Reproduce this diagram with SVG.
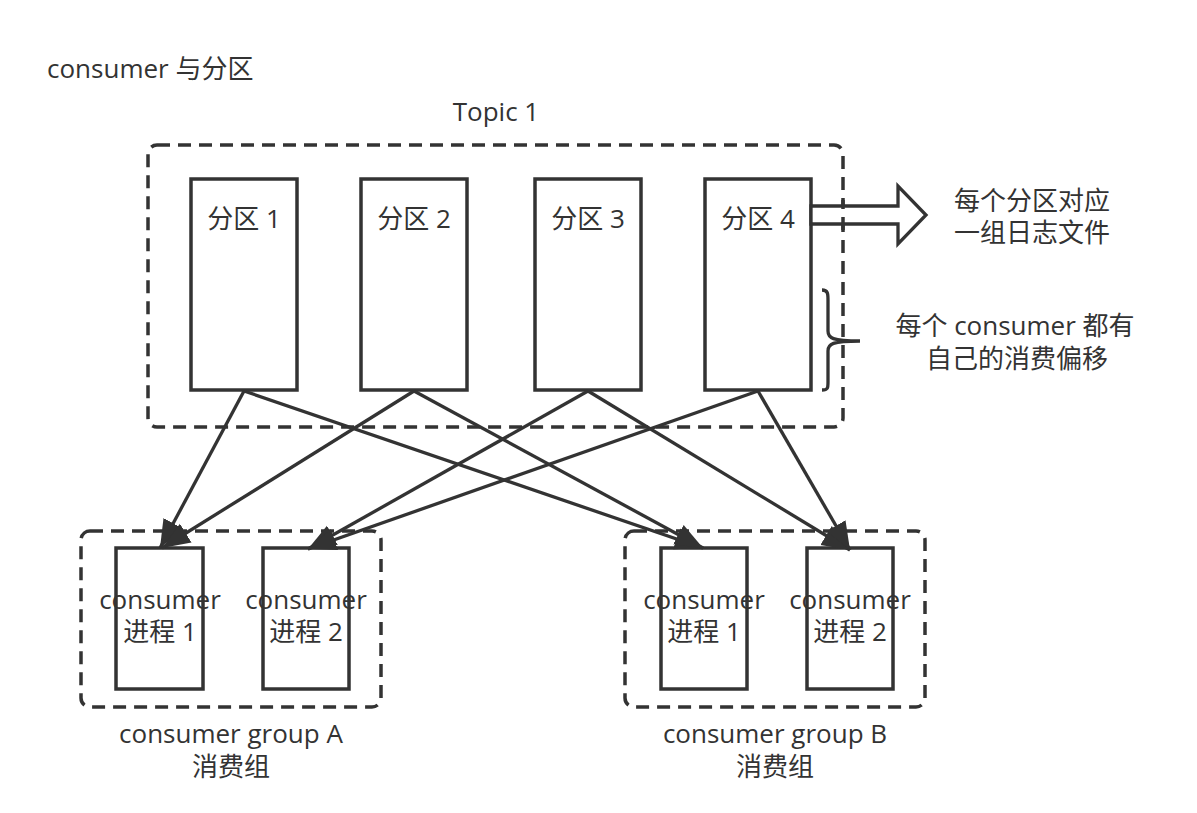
<svg xmlns="http://www.w3.org/2000/svg" width="1197" height="813" viewBox="0 0 1197 813">
<defs>
<style>
.t{font-family:"Open Sans","Noto Sans CJK SC",sans-serif;font-size:26px;fill:#333333;}
.c{text-anchor:middle;}
.box{fill:#ffffff;stroke:#333333;stroke-width:3.5;}
.dash{fill:none;stroke:#333333;stroke-width:3.5;stroke-dasharray:13 8;}
.ln{fill:none;stroke:#333333;stroke-width:3.3;}
</style>
<marker id="ah" markerUnits="userSpaceOnUse" markerWidth="30" markerHeight="26" viewBox="0 0 30 26" refX="28" refY="13" orient="auto">
<path d="M0,2 L28,13 L0,24 Z" fill="#333333"/>
</marker>
</defs>
<rect width="1197" height="813" fill="#ffffff"/>
<text class="t" x="47" y="78">consumer 与分区</text>
<g id="topic">
<text class="t c" x="496" y="121">Topic 1</text>
<rect class="dash" x="148" y="145" width="695" height="282" rx="9"/>
</g>
<g id="p1"><rect class="box" x="191" y="179" width="106" height="211"/><text class="t c" x="244" y="228">分区 1</text></g>
<g id="p2"><rect class="box" x="361" y="179" width="106" height="211"/><text class="t c" x="414" y="228">分区 2</text></g>
<g id="p3"><rect class="box" x="535" y="179" width="106" height="211"/><text class="t c" x="588" y="228">分区 3</text></g>
<g id="p4"><rect class="box" x="705" y="179" width="106" height="211"/><text class="t c" x="758" y="228">分区 4</text></g>
<g id="logarrow">
<polygon class="ln" points="811,206 898,206 898,186 926,215 898,244 898,224 811,224" style="fill:#ffffff"/>
<line x1="843" y1="200" x2="843" y2="230" class="dash" stroke-dashoffset="4"/>
</g>
<g id="lognote">
<text class="t c" x="1032" y="210">每个分区对应</text>
<text class="t c" x="1032" y="242">一组日志文件</text>
</g>
<g id="brace">
<path class="ln" d="M822,290 C828,290 828,294 828,300 L828,331 C828,338 832,341 860,341 M860,341 C832,341 828,344 828,351 L828,382 C828,388 828,390 822,390"/>
</g>
<g id="offsetnote">
<text class="t c" x="1015" y="335">每个 consumer 都有</text>
<text class="t c" x="1017" y="368">自己的消费偏移</text>
</g>
<g id="groupA">
<rect class="dash" x="81" y="531" width="300" height="176" rx="9"/>
<text class="t c" x="231" y="743">consumer group A</text>
<text class="t c" x="231" y="776">消费组</text>
</g>
<g id="groupB">
<rect class="dash" x="625" y="531" width="300" height="176" rx="9"/>
<text class="t c" x="775" y="743">consumer group B</text>
<text class="t c" x="775" y="776">消费组</text>
</g>
<g id="a1"><rect class="box" x="116" y="548" width="87" height="141"/><text class="t c" x="160" y="609">consumer</text><text class="t c" x="160" y="641">进程 1</text></g>
<g id="a2"><rect class="box" x="263" y="548" width="86" height="141"/><text class="t c" x="306" y="609">consumer</text><text class="t c" x="306" y="641">进程 2</text></g>
<g id="b1"><rect class="box" x="661" y="548" width="86" height="141"/><text class="t c" x="704" y="609">consumer</text><text class="t c" x="704" y="641">进程 1</text></g>
<g id="b2"><rect class="box" x="807" y="548" width="86" height="141"/><text class="t c" x="850" y="609">consumer</text><text class="t c" x="850" y="641">进程 2</text></g>
<g id="connectors">
<line class="ln" x1="244" y1="391" x2="160" y2="548" marker-end="url(#ah)"/>
<line class="ln" x1="414" y1="391" x2="162" y2="548" marker-end="url(#ah)"/>
<line class="ln" x1="588" y1="391" x2="308" y2="549" marker-end="url(#ah)"/>
<line class="ln" x1="758" y1="391" x2="308" y2="549" marker-end="url(#ah)"/>
<line class="ln" x1="244" y1="391" x2="703" y2="548" marker-end="url(#ah)"/>
<line class="ln" x1="414" y1="391" x2="703" y2="548" marker-end="url(#ah)"/>
<line class="ln" x1="588" y1="391" x2="850" y2="550" marker-end="url(#ah)"/>
<line class="ln" x1="758" y1="391" x2="850" y2="550" marker-end="url(#ah)"/>
</g>
</svg>
